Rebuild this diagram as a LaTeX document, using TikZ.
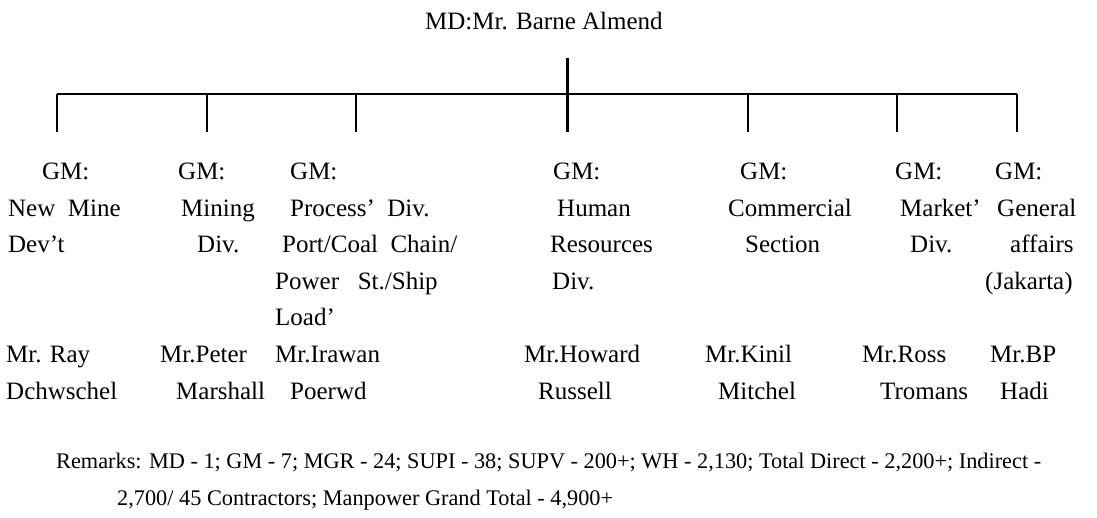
\documentclass[tikz,border=0pt]{standalone}
\usepackage{fontspec}
\setmainfont{Liberation Serif}
\usetikzlibrary{positioning}
\newcommand{\colstack}[1]{\begin{tabular}[t]{@{}l@{}}#1\end{tabular}}

\begin{document}
\begin{tikzpicture}[x=1pt,y=-1pt,
  txt/.style={anchor=base west,inner sep=0pt,font=\fontsize{25}{36.5}\selectfont},
  remark/.style={txt,font=\fontsize{22.3}{37}\selectfont},
  bar/.style={line width=1.6pt},
  drop/.style={line width=2.6pt},
  trunk/.style={line width=3pt}]

  \useasboundingbox (0,0) rectangle (1097,518);

  % managing director
  \node[txt] (md) at (425,30) {MD:Mr. Barne Almend};

  \coordinate (top) at (567,58);
  \coordinate (b1) at (57,94);   \coordinate (d1) at (57,132);
  \coordinate (b2) at (207,94);  \coordinate (d2) at (207,132);
  \coordinate (b3) at (356,94);  \coordinate (d3) at (356,132);
  \coordinate (b4) at (567,94);  \coordinate (d4) at (567,132);
  \coordinate (b5) at (748,94);  \coordinate (d5) at (748,132);
  \coordinate (b6) at (897,94);  \coordinate (d6) at (897,132);
  \coordinate (b7) at (1017,94); \coordinate (d7) at (1017,132);

  \draw[trunk] (top) -- (d4);
  \draw[bar] (b1) -- (b7);
  \draw[drop] (b1) -- (d1);
  \draw[drop] (b2) -- (d2);
  \draw[drop] (b3) -- (d3);
  \draw[drop] (b5) -- (d5);
  \draw[drop] (b6) -- (d6);
  \draw[drop] (b7) -- (d7);

  % general managers
  \node[txt] (gm1) at (8,180) {\colstack{\hspace{34pt}GM:\\New\ \ Mine\\Dev't}};
  \node[txt] (gm2) at (178,180) {\colstack{GM:\\\hspace{3pt}Mining\\\hspace{19pt}Div.}};
  \node[txt] (gm3) at (275,180) {\colstack{\hspace{15pt}GM:\\\hspace{15pt}Process'\ \ Div.\\\hspace{7pt}Port/Coal\ \ Chain/\\Power\ \ \ St./Ship\\Load'}};
  \node[txt] (gm4) at (550,180) {\colstack{\hspace{3pt}GM:\\\hspace{7pt}Human\\Resources\\\hspace{2pt}Div.}};
  \node[txt] (gm5) at (728,180) {\colstack{\hspace{12pt}GM:\\Commercial\\\hspace{17pt}Section}};
  \node[txt] (gm6) at (895,180) {\colstack{GM:\\\hspace{5pt}Market'\\\hspace{15pt}Div.}};
  \node[txt] (gm7) at (985,180) {\colstack{\hspace{10pt}GM:\\\hspace{12pt}General\\\hspace{25pt}affairs\\(Jakarta)}};

  % names
  \node[txt] (mr1) at (6,362.5) {\colstack{Mr. Ray\\Dchwschel}};
  \node[txt] (mr2) at (160,362.5) {\colstack{Mr.Peter\\\hspace{16pt}Marshall}};
  \node[txt] (mr3) at (275,362.5) {\colstack{Mr.Irawan\\\hspace{15pt}Poerwd}};
  \node[txt] (mr4) at (524,362.5) {\colstack{Mr.Howard\\\hspace{14pt}Russell}};
  \node[txt] (mr5) at (705,362.5) {\colstack{Mr.Kinil\\\hspace{13pt}Mitchel}};
  \node[txt] (mr6) at (862,362.5) {\colstack{Mr.Ross\\\hspace{18pt}Tromans}};
  \node[txt] (mr7) at (990,362.5) {\colstack{Mr.BP\\\hspace{10pt}Hadi}};

  % remarks
  \node[remark] (rem1) at (56,468) {\makebox[985pt][s]{Remarks: MD - 1; GM - 7; MGR - 24; SUPI - 38; SUPV - 200+; WH - 2,130; Total Direct - 2,200+; Indirect -}};
  \node[remark] (rem2) at (117,505) {2,700/ 45 Contractors; Manpower Grand Total - 4,900+};

\end{tikzpicture}
\end{document}
